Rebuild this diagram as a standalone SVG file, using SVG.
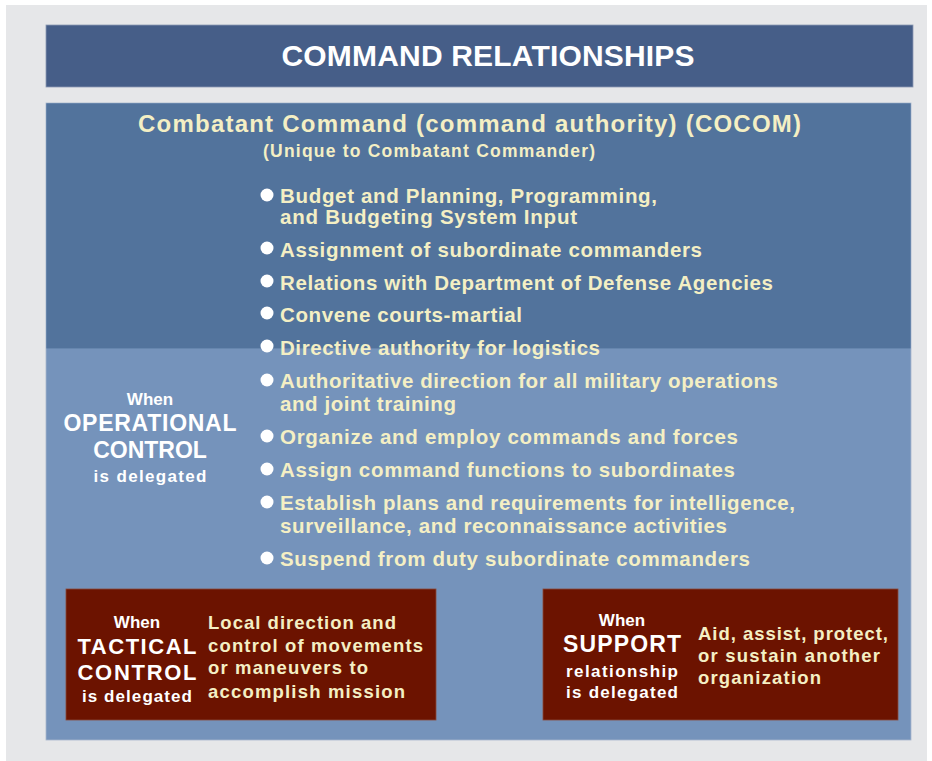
<svg xmlns="http://www.w3.org/2000/svg" width="932" height="761" viewBox="0 0 932 761">
<style>
  text { font-family: "Liberation Sans", Arial, sans-serif; font-weight: bold; }
  .cream { fill: #f4efc4; }
  .white { fill: #ffffff; }
  .bul { font-size: 20.5px; }
  .dot { fill: #ffffff; }
  .ctr { text-anchor: middle; }
  .redbox { fill: #6c1300; stroke: #8a4a3a; stroke-width: 0.8; }
  .sm { font-size: 17px; }
  .big { font-size: 23px; }
  .mid { font-size: 22px; }
  .desc { font-size: 18.5px; }
</style>
<rect x="0" y="0" width="932" height="761" fill="#ffffff"/>
<rect x="6" y="5" width="921" height="756" fill="#e6e7e9"/>

<g id="title">
  <rect x="46" y="25" width="867" height="62" fill="#465e88" stroke="#8c9ab3" stroke-width="0.8"/>
  <text class="white ctr" x="488" y="66" font-size="30" textLength="413">COMMAND RELATIONSHIPS</text>
</g>

<g id="cocom">
  <rect x="46" y="103" width="865" height="637" fill="#7593bb" stroke="#a9b7cc" stroke-width="0.8"/>
  <rect x="46.4" y="103.4" width="864.2" height="245" fill="#52739c"/>
  <text class="cream" x="138" y="132" font-size="24" textLength="663">Combatant Command (command authority) (COCOM)</text>
  <text class="cream" x="263" y="157" font-size="17.5" textLength="332">(Unique to Combatant Commander)</text>
</g>

<g id="bullets">
  <circle class="dot" cx="267" cy="195" r="6.5"/>
  <text class="cream bul" x="280" y="203" textLength="377">Budget and Planning, Programming,</text>
  <text class="cream bul" x="280" y="224" textLength="297">and Budgeting System Input</text>
  <circle class="dot" cx="267" cy="248" r="6.5"/>
  <text class="cream bul" x="280" y="257" textLength="422">Assignment of subordinate commanders</text>
  <circle class="dot" cx="267" cy="281" r="6.5"/>
  <text class="cream bul" x="280" y="290" textLength="493">Relations with Department of Defense Agencies</text>
  <circle class="dot" cx="267" cy="313" r="6.5"/>
  <text class="cream bul" x="280" y="322" textLength="242">Convene courts-martial</text>
  <circle class="dot" cx="267" cy="346" r="6.5"/>
  <text class="cream bul" x="280" y="355" textLength="320">Directive authority for logistics</text>
  <circle class="dot" cx="267" cy="380" r="6.5"/>
  <text class="cream bul" x="280" y="388" textLength="498">Authoritative direction for all military operations</text>
  <text class="cream bul" x="280" y="411" textLength="176">and joint training</text>
  <circle class="dot" cx="267" cy="436" r="6.5"/>
  <text class="cream bul" x="280" y="444" textLength="458">Organize and employ commands and forces</text>
  <circle class="dot" cx="267" cy="469" r="6.5"/>
  <text class="cream bul" x="280" y="477" textLength="455">Assign command functions to subordinates</text>
  <circle class="dot" cx="267" cy="502" r="6.5"/>
  <text class="cream bul" x="280" y="510" textLength="515">Establish plans and requirements for intelligence,</text>
  <text class="cream bul" x="280" y="533" textLength="447">surveillance, and reconnaissance activities</text>
  <circle class="dot" cx="267" cy="558" r="6.5"/>
  <text class="cream bul" x="280" y="566" textLength="470">Suspend from duty subordinate commanders</text>
</g>

<g id="opcon">
  <text class="white ctr sm" x="150" y="405">When</text>
  <text class="white ctr big" x="150" y="431" textLength="173">OPERATIONAL</text>
  <text class="white ctr big" x="150" y="458">CONTROL</text>
  <text class="white ctr sm" x="150" y="482" textLength="113">is delegated</text>
</g>

<g id="tacon">
  <rect class="redbox" x="66" y="589" width="370" height="131"/>
  <text class="white ctr sm" x="137" y="628">When</text>
  <text class="white ctr mid" x="137" y="654" textLength="119">TACTICAL</text>
  <text class="white ctr mid" x="137" y="680" textLength="119">CONTROL</text>
  <text class="white ctr sm" x="137" y="702" textLength="110">is delegated</text>
  <text class="cream desc" x="208" y="629" textLength="188">Local direction and</text>
  <text class="cream desc" x="208" y="652" textLength="215">control of movements</text>
  <text class="cream desc" x="208" y="674" textLength="160">or maneuvers to</text>
  <text class="cream desc" x="208" y="698" textLength="197">accomplish mission</text>
</g>

<g id="support">
  <rect class="redbox" x="543" y="589" width="355" height="131"/>
  <text class="white ctr sm" x="622" y="626">When</text>
  <text class="white ctr big" x="622" y="652" textLength="118">SUPPORT</text>
  <text class="white ctr sm" x="622" y="677" textLength="112">relationship</text>
  <text class="white ctr sm" x="622" y="698" textLength="112">is delegated</text>
  <text class="cream desc" x="698" y="640" textLength="190">Aid, assist, protect,</text>
  <text class="cream desc" x="698" y="662" textLength="182">or sustain another</text>
  <text class="cream desc" x="698" y="684" textLength="123">organization</text>
</g>

<g id="connectors"></g>
</svg>
